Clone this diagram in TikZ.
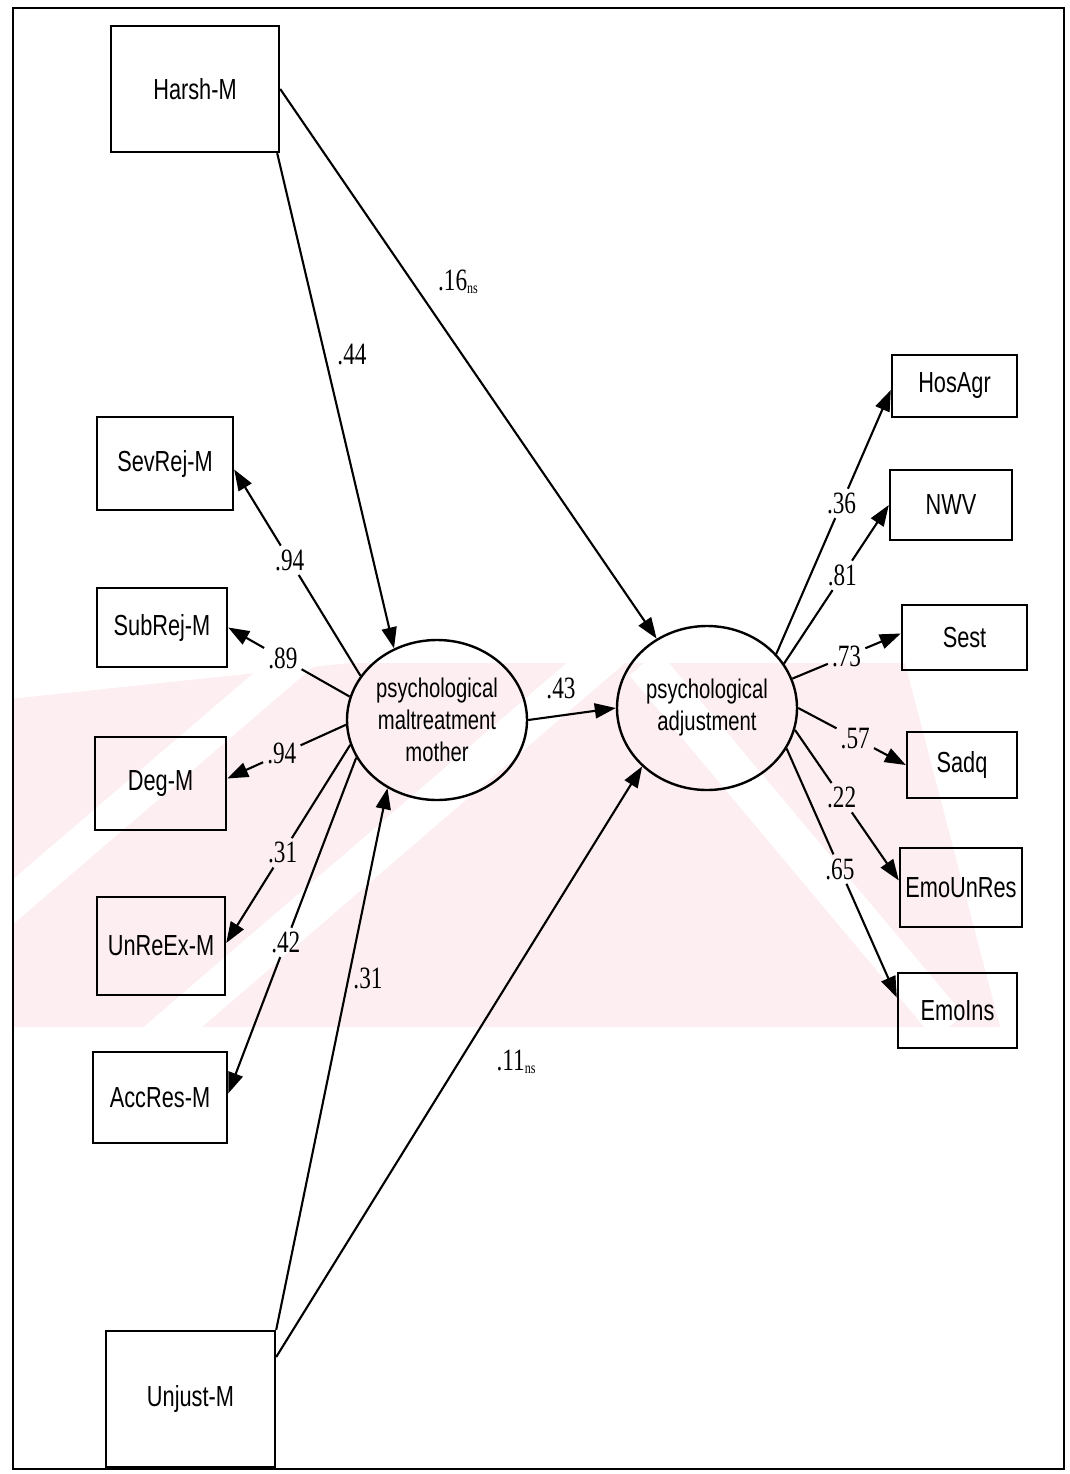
\documentclass[tikz,border=0pt]{standalone}
\usepackage{fontspec}
\usetikzlibrary{arrows.meta,calc,shapes.geometric}
\newfontfamily\boxfont[FakeStretch=0.75]{Liberation Sans}
\newfontfamily\numfont[FakeStretch=0.75]{Liberation Serif}
\newcommand\nssub{\raisebox{-3pt}{\fontsize{16}{16}\selectfont ns}}
\definecolor{wm}{RGB}{253,238,241}
\begin{document}
\begin{tikzpicture}[x=1pt,y=-1pt,
  box/.style={draw, line width=2.4pt, rectangle, inner sep=0pt, font=\boxfont\fontsize{29}{34}\selectfont},
  lat/.style={draw, line width=2.4pt, ellipse, inner sep=0pt, align=center, font=\boxfont\fontsize{27}{32}\selectfont},
  con/.style={line width=2.1pt},
  arr/.style={con, -{Triangle[length=21pt,width=15pt]}},
  coef/.style={inner sep=4pt, font=\numfont\fontsize{31}{31}\selectfont},
]
\useasboundingbox (0,0) rectangle (1069,1474);
% watermark
\begin{scope}
  \clip (14,663) rectangle (1063,1027);
  \fill[wm] (0,700) -- (350,663) -- (905,663) -- (1000,1027) -- (0,1027) -- cycle;
  \draw[white, line width=38pt] (88,1100) -- (669,600);
  \draw[white, line width=34pt] (-20,930) -- (330,630);
  \draw[white, line width=38pt] (644,663) -- (949,1027);
\end{scope}
% frame
\draw[line width=2.6pt] (13,8) rectangle (1064,1469);
% observed variables
\node[box, minimum width=168pt, minimum height=126pt] (harsh) at (195,89) {Harsh-M};
\node[box, minimum width=136pt, minimum height=93pt] (sev) at (165,463.5) {SevRej-M};
\node[box, minimum width=130pt, minimum height=79pt] (sub) at (162,627.5) {SubRej-M};
\node[box, minimum width=131pt, minimum height=93pt] (deg) at (160.5,783.5) {Deg-M};
\node[box, minimum width=128pt, minimum height=98pt] (unre) at (161,946) {UnReEx-M};
\node[box, minimum width=134pt, minimum height=91pt] (acc) at (160,1097.5) {AccRes-M};
\node[box, minimum width=169pt, minimum height=136pt] (unjust) at (190.5,1399) {Unjust-M};
\node[box, minimum width=125pt, minimum height=62pt] (hos) at (954.5,386) {HosAgr};
\node[box, minimum width=122pt, minimum height=70pt] (nwv) at (951,505) {NWV};
\node[box, minimum width=125pt, minimum height=65pt] (sest) at (964.5,637.5) {Sest};
\node[box, minimum width=110pt, minimum height=66pt] (sadq) at (962,765) {Sadq};
\node[box, minimum width=122pt, minimum height=79pt] (emou) at (961,887.5) {EmoUnRes};
\node[box, minimum width=119pt, minimum height=75pt] (emoi) at (957.5,1010.5) {EmoIns};
% latent variables
\node[lat, minimum width=180pt, minimum height=160pt] (mal) at (437,720) {psychological\\maltreatment\\mother};
\node[lat, minimum width=180pt, minimum height=164pt] (adj) at (707,708) {psychological\\adjustment};
% arrow tips at boxes
\coordinate (tsev) at ($(sev.east)+(0,6)$);
\coordinate (tsub) at (sub.east);
\coordinate (tdeg) at ($(deg.east)+(0,-5)$);
\coordinate (tunre) at ($(unre.east)+(0,-3)$);
\coordinate (tacc) at ($(acc.east)+(0,-4)$);
\coordinate (thos) at ($(hos.west)+(0,4)$);
\coordinate (tnwv) at (nwv.west);
\coordinate (tsest) at ($(sest.west)+(0,-4)$);
\coordinate (tsadq) at (sadq.west);
\coordinate (temou) at ($(emou.west)+(0,-7)$);
\coordinate (temoi) at ($(emoi.west)+(0,-13)$);
% structural paths
\draw[arr] ([xshift=-3pt]harsh.south east) -- (mal.121);
\draw[arr] (harsh.east) -- (adj.126);
\draw[arr] (unjust.north east) -- (mal.234);
\draw[arr] ($(unjust.east)+(0,-42)$) -- (adj.222);
\draw[arr] (mal.east) -- (adj.west);
\node[coef] (c44) at (352,355) {.44};
\node[coef] (c16) at (458,282) {.16\nssub};
\node[coef] (c31b) at (368,978) {.31};
\node[coef] (c11) at (516,1062) {.11\nssub};
\node[coef] (c43) at (561,688) {.43};
% loadings of maltreatment
\node[coef] (c94a) at ($(mal.150)!0.56!(tsev)$) {.94};
\draw[con] (mal.150) -- (c94a); \draw[arr] (c94a) -- (tsev);
\node[coef] (c89) at ($(mal.165)!0.55!(tsub)$) {.89};
\draw[con] (mal.165) -- (c89); \draw[arr] (c89) -- (tsub);
\node[coef] (c94b) at ($(mal.183)!0.54!(tdeg)$) {.94};
\draw[con] (mal.183) -- (c94b); \draw[arr] (c94b) -- (tdeg);
\node[coef] (c31a) at ($(mal.196)!0.545!(tunre)$) {.31};
\draw[con] (mal.196) -- (c31a); \draw[arr] (c31a) -- (tunre);
\node[coef] (c42) at ($(mal.205)!0.55!(tacc)$) {.42};
\draw[con] (mal.205) -- (c42); \draw[arr] (c42) -- (tacc);
% loadings of adjustment
\node[coef] (c36) at ($(adj.38)!0.57!(thos)$) {.36};
\draw[con] (adj.38) -- (c36); \draw[arr] (c36) -- (thos);
\node[coef] (c81) at ($(adj.30)!0.556!(tnwv)$) {.81};
\draw[con] (adj.30) -- (c81); \draw[arr] (c81) -- (tnwv);
\node[coef] (c73) at ($(adj.19)!0.5!(tsest)$) {.73};
\draw[con] (adj.19) -- (c73); \draw[arr] (c73) -- (tsest);
\node[coef] (c57) at ($(adj.0)!0.53!(tsadq)$) {.57};
\draw[con] (adj.0) -- (c57); \draw[arr] (c57) -- (tsadq);
\node[coef] (c22) at ($(adj.-14)!0.45!(temou)$) {.22};
\draw[con] (adj.-14) -- (c22); \draw[arr] (c22) -- (temou);
\node[coef] (c65) at ($(adj.-27)!0.484!(temoi)$) {.65};
\draw[con] (adj.-27) -- (c65); \draw[arr] (c65) -- (temoi);
\end{tikzpicture}
\end{document}
